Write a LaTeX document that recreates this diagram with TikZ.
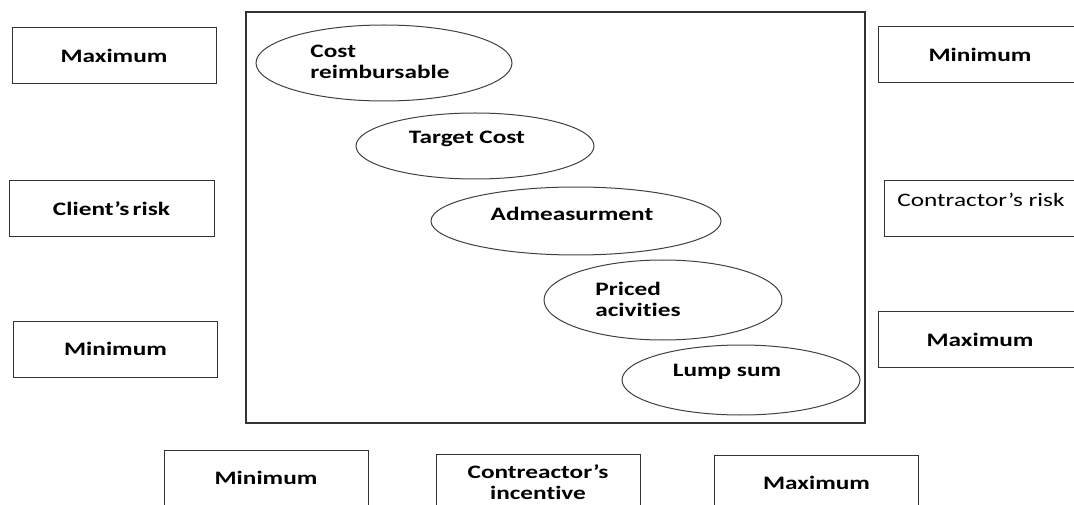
\documentclass[tikz,border=0pt]{standalone}
\usepackage{fontspec}
\setmainfont{Carlito}[FakeStretch = 1.33, Ligatures = {TeX, NoCommon}]
\tikzset{
    box/.style = {draw = black!80, line width = 1pt, minimum width = 204pt, minimum height = 56pt,
        align = center, font = \fontsize{19}{21}\selectfont\bfseries},
    tag/.style = {align = left, inner sep = 0pt, font = \fontsize{19}{21}\selectfont\bfseries},
}
\begin{document}
\begin{tikzpicture}[x = 1pt, y = -1pt]
            \useasboundingbox (0, 0) rectangle (1074, 505);
            \clip (0, 0) rectangle (1074, 505);
            \draw[line width = 1.5pt, black!80] (246, 12) rectangle (865, 423);
            \path
                (114, 55.5) node[box] (lmax) {Maximum}
                (111.5, 209) node[box, minimum width = 205pt] (lrisk) {Client's\,risk}
                (115.5, 349) node[box] (lmin) {Minimum}
                (980, 54.5) node[box] (rmin) {Minimum}
                (981, 208.5) node[box, minimum width = 194pt, text depth = 18pt,
                    font = \fontsize{19}{21}\selectfont] (rrisk) {Contractor's risk}
                (980, 339.5) node[box] (rmax) {Maximum}
                (266, 478) node[box] (bmin) {Minimum}
                (538, 482) node[box] (binc) {Contreactor's\\incentive}
                (816.5, 483) node[box] (bmax) {Maximum}
            ;
            \path
                (384, 63) coordinate (cr)
                (475, 146) coordinate (tc)
                (576, 221) coordinate (ad)
                (663, 300) coordinate (pa)
                (741, 380) coordinate (ls)
            ;
            \draw[line width = 1pt, black!75]
                (cr) ellipse [x radius = 128pt, y radius = 38pt]
                (tc) ellipse [x radius = 119pt, y radius = 33pt]
                (ad) ellipse [x radius = 145pt, y radius = 34pt]
                (pa) ellipse [x radius = 119pt, y radius = 40pt]
                (ls) ellipse [x radius = 119pt, y radius = 35pt]
            ;
            \path
                (380, 62) node[tag] (crtext) {Cost\\reimbursable}
                (467, 139) node[tag] (tctext) {Target Cost}
                (572, 214) node[tag] (adtext) {Admeasurment}
                (638, 299) node[tag] (patext) {Priced\\acivities}
                (727, 372) node[tag] (lstext) {Lump sum}
            ;
        \end{tikzpicture}
\end{document}
